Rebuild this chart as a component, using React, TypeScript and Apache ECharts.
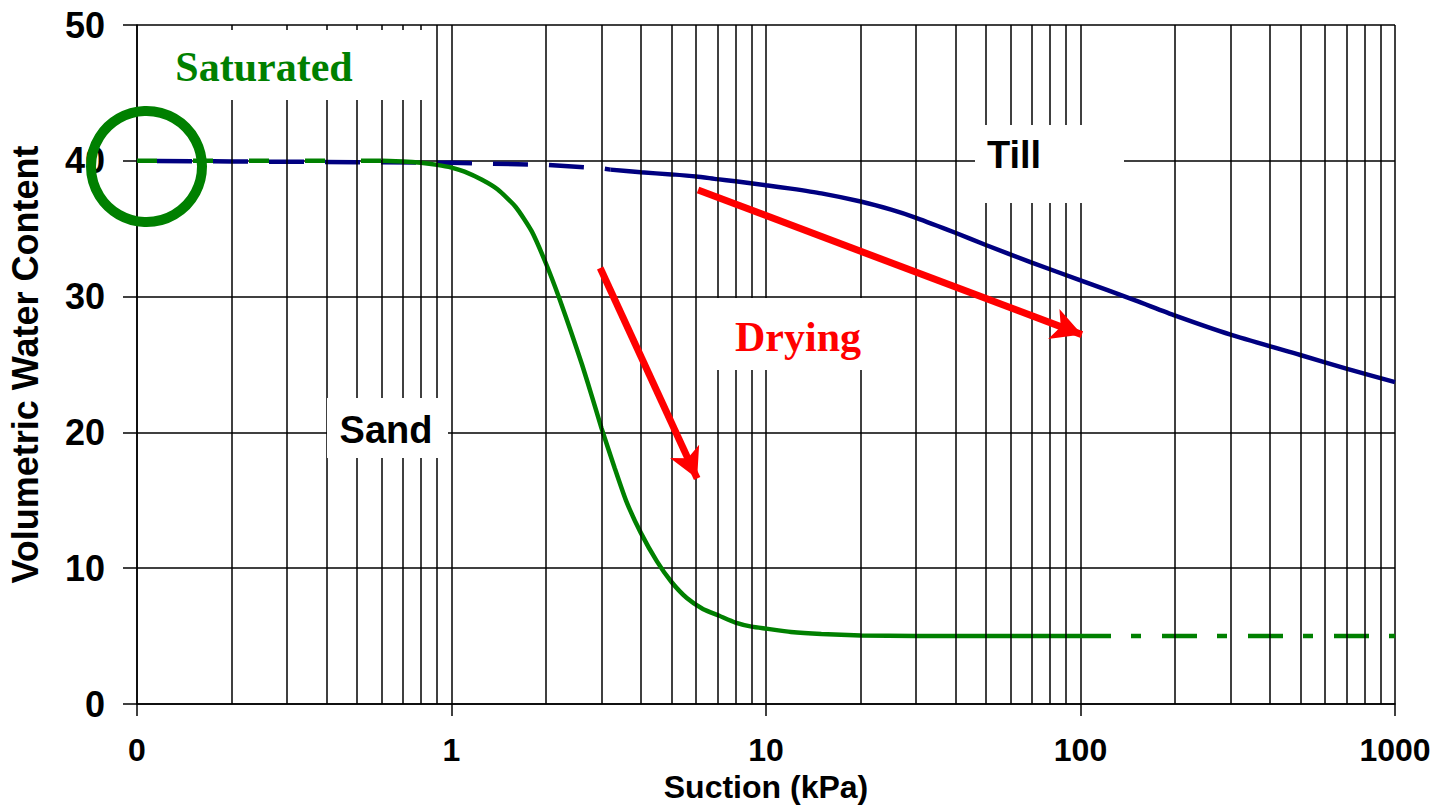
import React, { useEffect, useRef } from "react";
import * as echarts from "echarts";

// Till (blue) drying curve: suction (kPa) vs volumetric water content (%)
const tillSuction = [0.1, 0.2, 0.5, 1, 2, 3, 3.2, 4, 5, 6, 7, 8, 10, 12, 15, 20, 25, 30, 40, 50, 70, 100, 150, 200, 300, 500, 700, 1000];
const tillWater = [40, 39.95, 39.9, 39.85, 39.7, 39.45, 39.35, 39.15, 39.0, 38.85, 38.65, 38.5, 38.2, 37.95, 37.6, 37.0, 36.4, 35.8, 34.7, 33.8, 32.5, 31.2, 29.7, 28.6, 27.2, 25.7, 24.7, 23.7];

// Sand (green) drying curve
const sandSuction = [0.1, 0.3, 0.6, 0.7, 0.8, 0.9, 1.0, 1.1, 1.25, 1.4, 1.6, 1.8, 2.0, 2.2, 2.4, 2.6, 2.8, 3.0, 3.3, 3.6, 4.0, 4.5, 5.0, 5.6, 6.3, 7.1, 8.0, 9.0, 10, 12, 15, 20, 30, 125, 1000];
const sandWater = [40, 40, 40, 39.95, 39.85, 39.7, 39.5, 39.2, 38.6, 37.9, 36.6, 34.8, 32.4, 29.9, 27.4, 25.0, 22.6, 20.3, 17.4, 14.9, 12.6, 10.5, 9.0, 7.8, 7.0, 6.5, 6.0, 5.7, 5.55, 5.3, 5.15, 5.05, 5.0, 5.0, 5.0];

// Axis ticks
const xTickValues = [0.1, 1, 10, 100, 1000];
const xTickLabels = ["0", "1", "10", "100", "1000"];
const minorMultipliers = [2, 3, 4, 5, 6, 7, 8, 9];
const minorDecades = [0.1, 1, 10, 100];

// Arrow annotations in data coordinates [suction, water]
const sandArrow = [[2.97, 32.1], [6.04, 16.6]];
const tillArrow = [[6.08, 37.85], [101, 27.2]];

const pick = (xs: number[], ys: number[], lo: number, hi: number) =>
  xs.map((x, i) => [x, ys[i]]).filter(([x]) => x >= lo && x <= hi);

const SANS = "'Liberation Sans', Arial, sans-serif";
const SERIF = "'Liberation Serif', 'Times New Roman', serif";
const GREEN = "#008000";
const NAVY = "#000080";

export default function App() {
  const ref = useRef<HTMLDivElement>(null);
  useEffect(() => {
    if (!ref.current) return;
    const chart = echarts.init(ref.current, undefined, { renderer: "svg" });
    const minorGrid: number[] = [];
    minorDecades.forEach((d) => minorMultipliers.forEach((m) => minorGrid.push(d * m)));
    const gridLine = { color: "#000", width: 1.5, type: "solid" as const };

    const box = (x: number, y: number, w: number, h: number) => ({
      type: "rect",
      shape: { x, y, width: w, height: h },
      style: { fill: "#fff" },
      z: 50,
    });
    const label = (text: string, x: number, y: number, font: string, size: number, color: string) => ({
      type: "text",
      x,
      y,
      style: {
        text,
        fill: color,
        font: `bold ${size}px ${font}`,
        textAlign: "center",
        textVerticalAlign: "middle",
      },
      z: 51,
    });

    chart.setOption({
      animation: false,
      grid: { left: 137, top: 25, right: 42, bottom: 105, outerBoundsMode: "none", containLabel: false },
      xAxis: {
        type: "log",
        logBase: 10,
        min: 0.1,
        max: 1000,
        name: "Suction (kPa)",
        nameLocation: "middle",
        nameGap: 67,
        nameMoveOverlap: false,
        nameTextStyle: { fontFamily: SANS, fontWeight: "bold", fontSize: 32, color: "#000" },
        axisLine: { show: true, lineStyle: { color: "#000", width: 1.5 } },
        axisTick: { show: true, length: 12, lineStyle: { color: "#000", width: 1.5 } },
        axisLabel: {
          margin: 30,
          fontFamily: SANS,
          fontWeight: "bold",
          fontSize: 32,
          color: "#000",
          formatter: (v: number) => {
            const i = xTickValues.findIndex((t) => Math.abs(Math.log10(t) - Math.log10(v)) < 1e-6);
            return i >= 0 ? xTickLabels[i] : "";
          },
        },
        splitLine: { show: true, lineStyle: gridLine },
      },
      yAxis: {
        type: "value",
        min: 0,
        max: 50,
        interval: 10,
        name: "Volumetric Water Content",
        nameLocation: "middle",
        nameGap: 94,
        nameMoveOverlap: false,
        nameTextStyle: { fontFamily: SANS, fontWeight: "bold", fontSize: 36, color: "#000" },
        axisLine: { show: true, lineStyle: { color: "#000", width: 1.5 } },
        axisTick: { show: true, length: 14, lineStyle: { color: "#000", width: 1.5 } },
        axisLabel: { margin: 32, fontFamily: SANS, fontWeight: "bold", fontSize: 36, color: "#000" },
        splitLine: { show: true, lineStyle: gridLine },
      },
      series: [
        {
          type: "line",
          name: "minor grid",
          data: [[0.1, 0]],
          symbol: "none",
          lineStyle: { opacity: 0 },
          silent: true,
          z: 1,
          markLine: {
            silent: true,
            symbol: ["none", "none"],
            label: { show: false },
            lineStyle: gridLine,
            emphasis: { disabled: true },
            data: minorGrid.map((v) => ({ xAxis: v })),
          },
        },
        {
          type: "line",
          name: "Till dashed",
          data: pick(tillSuction, tillWater, 0.1, 3.2),
          symbol: "none",
          z: 3,
          lineStyle: { color: NAVY, width: 4.5, type: [35, 21], dashOffset: 36 },
        },
        {
          type: "line",
          name: "Till",
          data: pick(tillSuction, tillWater, 3.2, 1000),
          symbol: "none",
          smooth: 0.2,
          z: 3,
          lineStyle: { color: NAVY, width: 4.5 },
          markLine: {
            silent: true,
            symbol: ["none", "arrow"],
            symbolSize: [24, 30],
            label: { show: false },
            emphasis: { disabled: true },
            lineStyle: { color: "#ff0000", width: 7, type: "solid" },
            data: [
              [{ coord: sandArrow[0] }, { coord: sandArrow[1] }],
              [{ coord: tillArrow[0] }, { coord: tillArrow[1] }],
            ],
          },
        },
        {
          type: "line",
          name: "Sand dashed",
          data: pick(sandSuction, sandWater, 0.1, 0.6),
          symbol: "none",
          z: 4,
          lineStyle: { color: GREEN, width: 4.5, type: [20, 36], dashOffset: 0 },
        },
        {
          type: "line",
          name: "Sand",
          data: pick(sandSuction, sandWater, 0.6, 125),
          symbol: "none",
          smooth: 0.2,
          z: 4,
          lineStyle: { color: GREEN, width: 4.5 },
        },
        {
          type: "line",
          name: "Sand extrapolated",
          data: pick(sandSuction, sandWater, 125, 1000),
          symbol: "none",
          z: 4,
          lineStyle: { color: GREEN, width: 4.5, type: [35, 20, 10, 21], dashOffset: 35 },
        },
      ],
      graphic: [
        box(155, 30, 278, 70),
        label("Saturated", 264, 67, SERIF, 42, GREEN),
        box(975, 125, 149, 78),
        label("Till", 1014, 155, SANS, 38, "#000"),
        box(712, 298, 154, 72),
        label("Drying", 798, 337, SERIF, 42, "#ff0000"),
        box(327, 398, 121, 60),
        label("Sand", 386, 430, SANS, 38, "#000"),
        {
          type: "circle",
          shape: { cx: 146.5, cy: 166.5, r: 55.5 },
          style: { fill: "none", stroke: GREEN, lineWidth: 10 },
          z: 60,
        },
      ],
    });
    return () => chart.dispose();
  }, []);
  return (
    <div
      ref={ref}
      style={{ position: "fixed", left: 0, top: 0, width: 1437, height: 809, background: "#fff" }}
    />
  );
}
